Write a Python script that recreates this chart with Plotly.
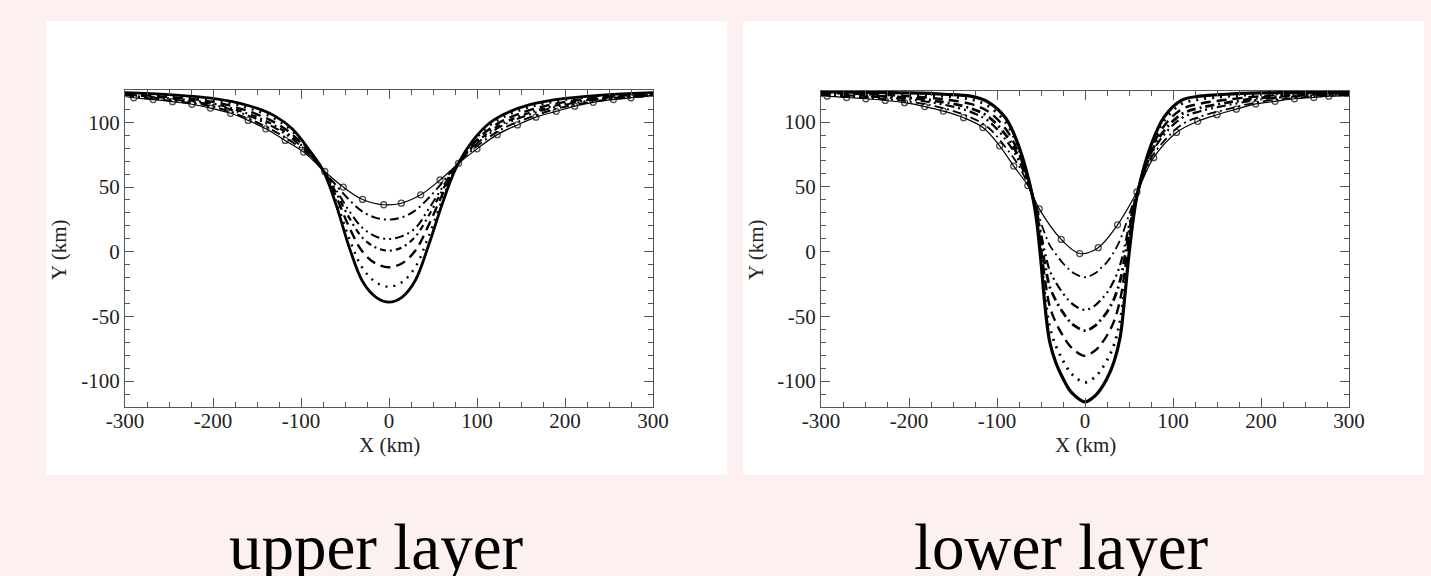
import plotly.graph_objects as go

# ---------------- data ----------------
# upper layer (left panel)
xu_grid = [-300, -250, -200, -160, -130, -110, -90, -75, -60, -45, -30, -15, 0,
           15, 30, 45, 60, 75, 90, 110, 130, 160, 200, 250, 300]
up_d1 = [120.5, 116.8, 112.1, 102.8, 93.1, 84.8, 74.2, 63, 51.3, 40, 31, 26.2, 24.8,
         26.6, 32, 41.5, 53, 65.5, 75.9, 86.8, 95.4, 103.8, 112.1, 117.7, 120.5]
up_d2 = [121.1, 117.9, 113.6, 105.2, 95.9, 87.2, 75.1, 63, 47.7, 31.3, 18.3, 11.8, 9.8,
         12.1, 18.3, 33, 49, 65, 77.1, 89.2, 97.9, 106.1, 113.6, 118.6, 121.1]
up_d3 = [121.4, 118.6, 114.5, 106.6, 97.6, 88.6, 75.6, 63, 45.5, 26, 10.7, 3.2, 0.8,
         3.4, 11.7, 27.8, 46.6, 64.6, 77.8, 90.6, 99.4, 107.5, 114.5, 119.1, 121.4]
up_d4 = [121.9, 119.5, 115.8, 108.7, 100, 90.7, 76.4, 63, 42.5, 18.7, -0.1, -9.1, -12,
         -8.9, 0.9, 20.5, 43.2, 64.1, 78.8, 92.7, 101.5, 109.5, 115.8, 119.9, 121.9]
up_d5 = [122.5, 120.6, 117.3, 111.1, 102.8, 93.1, 77.3, 63, 38.9, 9.9, -12.8, -23.5, -27,
         -23.4, -11.8, 11.9, 39.2, 63.5, 80, 95.1, 104, 111.8, 117.3, 121, 122.5]
up_solid = [123, 121.5, 118.5, 113, 105, 95, 78, 63, 36, 3, -23, -35, -39,
            -35, -22, 5, 36, 63, 81, 97, 106, 113.7, 118.5, 121.5, 123]
xu_circ = [-300, -290, -268, -246, -224, -203, -180, -160, -140, -118, -97, -73, -52, -30, -6,
           14, 36, 58, 79, 100, 123, 146, 167, 190, 211, 232, 255, 275, 300]
up_circ = [120, 119, 117.6, 116, 114, 111, 107, 101.5, 95, 86, 77, 62, 50, 40.4, 36.3,
           37.5, 44, 55.5, 68.3, 79.5, 90.5, 98, 104, 108.5, 112.5, 115.5, 117.6, 119, 120.5]

# lower layer (right panel)
xl_grid = [-300, -250, -200, -160, -130, -110, -90, -75, -60, -55, -50, -45, -40, -33, -25, -18,
           -12, 0, 12, 18, 25, 33, 40, 45, 50, 55, 60, 75, 90, 110, 130, 160, 200, 250, 300]
lo_d1 = [121, 118.8, 115.8, 110.6, 103.6, 95.8, 80.3, 65.9, 44, 34.9, 22.2, 13, 4.8, -2, -9, -13.7,
         -16.9, -19.8, -16.5, -12.8, -8.1, -0.2, 9.1, 18.2, 28.2, 37.8, 46.8, 71.9, 85.5, 98.1,
         104, 109.7, 115.8, 119.2, 121]
lo_d2 = [121.6, 119.9, 117.5, 113.4, 107.9, 100.9, 86.3, 69.8, 44, 32.1, 14.3, -2.2, -14.8, -24,
         -32.3, -38, -41.6, -45, -41.3, -37.2, -31.7, -22.4, -10.1, 4, 20.3, 34.7, 46.6, 74.6,
         90.4, 103.1, 108.2, 112.8, 117.5, 120.2, 121.6]
lo_d3 = [122, 120.6, 118.7, 115.3, 110.6, 104.2, 90, 72.4, 44, 30.2, 9.3, -11.9, -27.3, -38,
         -47.1, -53.5, -57.2, -61, -57, -52.7, -46.6, -36.5, -22.2, -5, 15.3, 32.7, 46.5, 76.2,
         93.4, 106.2, 110.9, 114.8, 118.7, 120.8, 122]
lo_d4 = [122.6, 121.5, 120, 117.5, 114, 108.2, 94.6, 75.4, 44, 28, 3.2, -23.6, -42.4, -55,
         -65.1, -72.2, -76.3, -80.5, -76.1, -71.6, -64.8, -53.7, -37, -16, 9.2, 30.3, 46.3, 78.3,
         97.2, 110, 114.1, 117.2, 120, 121.6, 122.6]
lo_d5 = [123.1, 122.4, 121.5, 119.8, 117.5, 112.4, 99.5, 78.7, 44, 25.7, -3.3, -36, -58.4, -73,
         -84.2, -92.1, -96.4, -101.1, -96.4, -91.6, -84.1, -71.9, -52.7, -27.6, 2.7, 27.8, 46.1,
         80.4, 101.1, 114.1, 117.5, 119.7, 121.5, 122.4, 123.1]
lo_solid = [123.5, 123, 122.5, 121.5, 120, 115.5, 103, 81, 44, 24, -8, -45, -70, -86, -98, -106.5,
            -111, -116, -111, -106, -98, -85, -66, -36, -2, 26, 46, 82, 104, 117, 120, 121.5,
            122.5, 123, 123.5]
xl_circ = [-300, -293, -271, -249, -227, -205, -182, -161, -138, -116, -97, -81, -65, -52, -27, -6,
           15, 37, 59, 78, 104, 128, 150, 172, 194, 216, 238, 260, 277, 300]
lo_circ = [120.5, 120, 119, 118, 116.7, 115, 112, 108.5, 103.4, 95.8, 81.7, 66, 51, 33, 9.4, -1.5,
           3, 20.7, 46, 72.5, 92, 100.6, 105.7, 110, 114, 116, 118, 119, 120, 120.5]

x_tickvals = [-300, -200, -100, 0, 100, 200, 300]
x_ticktext = ["-300", "-200", "-100", "0", "100", "200", "300"]
y_tickvals = [-100, -50, 0, 50, 100]
y_ticktext = ["-100", "-50", "0", "50", "100"]
panel_titles = ["upper layer", "lower layer"]
x_title = "X (km)"
y_title = "Y (km)"

# ---------------- figure ----------------
W, H = 1431, 576
BG = "#FDF0F0"
FONT = "Liberation Serif, Times New Roman, serif"
fig = go.Figure()

DASH_DD = "9px,4px,2px,4px"
DASH_DDD = "9px,4px,2px,4px,2px,4px"
DASH_DD2 = "6px,4px,2px,4px"
DASH_LONG = "10px,6px"
DASH_DOT = "2px,6px"


def add_curve(x, y, xa, ya, dash, width):
    fig.add_trace(go.Scatter(x=x, y=y, mode="lines", xaxis=xa, yaxis=ya,
                             line=dict(color="black", width=width, dash=dash,
                                       shape="spline", smoothing=1.0),
                             showlegend=False, hoverinfo="skip"))


def add_circ(x, y, xa, ya):
    sizes = [0] + [6] * (len(x) - 2) + [0]
    fig.add_trace(go.Scatter(x=x, y=y, mode="lines+markers", xaxis=xa, yaxis=ya,
                             line=dict(color="black", width=1.2, shape="spline", smoothing=1.0),
                             marker=dict(symbol="circle-open", size=sizes, color="black",
                                         line=dict(width=1.3, color="black")),
                             showlegend=False, hoverinfo="skip"))


# left panel
add_circ(xu_circ, up_circ, "x", "y")
add_curve(xu_grid, up_d1, "x", "y", DASH_DD, 2)
add_curve(xu_grid, up_d2, "x", "y", DASH_DDD, 2)
add_curve(xu_grid, up_d3, "x", "y", DASH_DD2, 2.2)
add_curve(xu_grid, up_d4, "x", "y", DASH_LONG, 2.4)
add_curve(xu_grid, up_d5, "x", "y", DASH_DOT, 2.4)
add_curve(xu_grid, up_solid, "x", "y", "solid", 2.8)

# right panel
add_circ(xl_circ, lo_circ, "x2", "y2")
add_curve(xl_grid, lo_d1, "x2", "y2", DASH_DD, 1.8)
add_curve(xl_grid, lo_d2, "x2", "y2", DASH_DDD, 2.2)
add_curve(xl_grid, lo_d3, "x2", "y2", DASH_DD, 2.8)
add_curve(xl_grid, lo_d4, "x2", "y2", DASH_LONG, 2.4)
add_curve(xl_grid, lo_d5, "x2", "y2", DASH_DOT, 2.8)
add_curve(xl_grid, lo_solid, "x2", "y2", "solid", 3.2)


def px_x(v):
    return v / W


def px_y(v):
    return 1 - v / H


axis_common = dict(showgrid=False, zeroline=False, showline=True, linecolor="#555",
                   linewidth=1, mirror="allticks", ticks="inside", ticklen=9,
                   tickcolor="#555", tickwidth=1, automargin=False,
                   tickfont=dict(family=FONT, size=21, color="#222"))

fig.update_layout(
    width=W, height=H, autosize=False,
    margin=dict(l=0, r=0, t=0, b=0, pad=0),
    paper_bgcolor=BG,
    plot_bgcolor="white",
    xaxis=dict(domain=[px_x(125), px_x(653)], range=[-300, 300], anchor="y",
               tickmode="array", tickvals=x_tickvals, ticktext=x_ticktext,
               ticklabelstandoff=-5,
               minor=dict(dtick=25, tick0=0, ticks="inside", ticklen=5, tickcolor="#555"),
               **axis_common),
    yaxis=dict(domain=[px_y(407), px_y(90)], range=[-120, 125], anchor="x",
               tickmode="array", tickvals=y_tickvals, ticktext=y_ticktext,
               minor=dict(dtick=10, tick0=0, ticks="inside", ticklen=5, tickcolor="#555"),
               **axis_common),
    xaxis2=dict(domain=[px_x(821), px_x(1349)], range=[-300, 300], anchor="y2",
                tickmode="array", tickvals=x_tickvals, ticktext=x_ticktext,
                ticklabelstandoff=-5,
                minor=dict(dtick=25, tick0=0, ticks="inside", ticklen=5, tickcolor="#555"),
                **axis_common),
    yaxis2=dict(domain=[px_y(407), px_y(91)], range=[-120, 124], anchor="x2",
                tickmode="array", tickvals=y_tickvals, ticktext=y_ticktext,
                minor=dict(dtick=10, tick0=0, ticks="inside", ticklen=5, tickcolor="#555"),
                **axis_common),
)

# white panels behind the plots
for x0, x1 in [(46, 727), (743, 1424)]:
    fig.add_shape(type="rect", xref="paper", yref="paper", layer="below",
                  x0=px_x(x0), x1=px_x(x1), y0=px_y(475), y1=px_y(21),
                  fillcolor="white", line=dict(width=0))

annos = []
for cx, ycx in [(389, 59), (1085, 756)]:
    annos.append(dict(text=x_title, x=px_x(cx), y=px_y(445), xref="paper", yref="paper",
                      showarrow=False, xanchor="center", yanchor="middle",
                      font=dict(family=FONT, size=21, color="#222")))
    annos.append(dict(text=y_title, x=px_x(ycx), y=px_y(250), xref="paper", yref="paper",
                      showarrow=False, xanchor="center", yanchor="middle", textangle=-90,
                      font=dict(family=FONT, size=21, color="#222")))
for t, cx in zip(panel_titles, [376, 1061]):
    annos.append(dict(text=t, x=px_x(cx), y=px_y(547), xref="paper", yref="paper",
                      showarrow=False, xanchor="center", yanchor="middle",
                      font=dict(family=FONT, size=65, color="black")))
fig.update_layout(annotations=annos)

page_fix = ("document.documentElement.style.margin='0';"
            "document.body.style.margin='0';"
            "document.body.style.overflow='hidden';"
            "document.body.style.background='" + BG + "';")
fig.write_html("out.html", post_script=page_fix, config={"displayModeBar": False})
